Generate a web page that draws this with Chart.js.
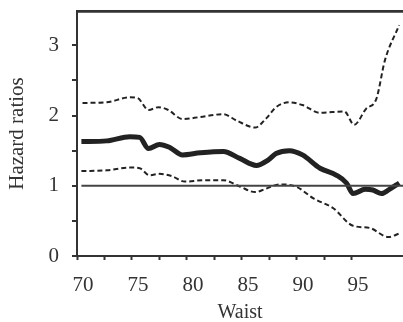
<!DOCTYPE html>
<html>
<head>
<meta charset="utf-8">
<script src="https://cdn.jsdelivr.net/npm/chart.js@4.4.1/dist/chart.umd.min.js"></script>
<style>
  html, body { margin: 0; padding: 0; background: #fff; }
  #wrap { width: 403px; height: 322px; }
</style>
</head>
<body>
<div id="wrap"><canvas id="hrChart" width="403" height="322"></canvas></div>
<script>
// Waist vs hazard ratio (estimate + 95% band)
const waistMain = [70.4, 72.7, 74.8, 75.7, 76.5, 77.5, 78.4, 79.6, 81.2, 83.3, 84.8, 86.3, 87.4, 88.1, 89.3, 90.5, 92.1, 93.6, 94.5, 95.1, 96.2, 96.9, 97.7, 98.4, 99.3];
const hrMain    = [1.63, 1.64, 1.70, 1.69, 1.53, 1.59, 1.55, 1.44, 1.47, 1.49, 1.39, 1.29, 1.37, 1.46, 1.50, 1.44, 1.25, 1.15, 1.04, 0.89, 0.95, 0.94, 0.89, 0.95, 1.04];

const waistUpper = [70.5, 72.7, 74.8, 75.5, 76.5, 77.4, 78.3, 79.6, 81.2, 83.3, 84.5, 86.2, 87.2, 88.1, 89.3, 90.5, 92.1, 94.3, 95.2, 96.3, 97.2, 98.0, 99.3];
const hrUpper    = [2.18, 2.19, 2.26, 2.25, 2.08, 2.12, 2.08, 1.95, 1.98, 2.02, 1.93, 1.83, 1.96, 2.12, 2.19, 2.15, 2.04, 2.06, 1.87, 2.10, 2.23, 2.79, 3.29];

const waistLower = [70.4, 72.7, 74.8, 75.7, 76.6, 77.5, 78.6, 79.8, 81.5, 83.3, 84.8, 86.2, 87.2, 88.4, 89.9, 91.5, 93.3, 95.1, 96.6, 98.3, 99.3];
const hrLower    = [1.21, 1.22, 1.26, 1.25, 1.15, 1.17, 1.14, 1.06, 1.08, 1.08, 0.99, 0.91, 0.96, 1.02, 0.99, 0.82, 0.68, 0.43, 0.40, 0.27, 0.32];

const refWaist = [70.4, 99.7];
const refHr    = [1, 1];

const xMin = 70, xMax = 99.64;
const yMin = 0, yMax = 3.49;

const pts = (xs, ys) => xs.map((x, i) => ({ x: x, y: ys[i] }));

const ink = '#222';
const axisInk = '#333';
const clear = 'rgba(0,0,0,0)';
const serif = "'Liberation Serif', 'DejaVu Serif', serif";

// only keep ticks on the step grid (plus the top, when asked, for the frame line)
function keepStep(step, keepMax) {
  return function (scale) {
    scale.ticks = scale.ticks.filter(t =>
      Math.abs(t.value / step - Math.round(t.value / step)) < 1e-6 || (keepMax && t.value === scale.max));
    if (keepMax && !scale.ticks.some(t => t.value === scale.max)) scale.ticks.push({ value: scale.max });
  };
}

const isTop = c => c.tick && c.tick.value === yMax;

// top edge of the frame, drawn again over the datasets
const topFrame = {
  id: 'topFrame',
  afterDatasetsDraw(chart) {
    const ctx = chart.ctx;
    const area = chart.chartArea;
    ctx.save();
    ctx.setLineDash([]);
    ctx.strokeStyle = axisInk;
    ctx.lineWidth = 2.5;
    ctx.beginPath();
    ctx.moveTo(area.left - 1, area.top + 0.5);
    ctx.lineTo(area.right, area.top + 0.5);
    ctx.stroke();
    ctx.restore();
  }
};

new Chart(document.getElementById('hrChart'), {
  type: 'line',
  data: {
    datasets: [
      {
        label: 'reference',
        data: pts(refWaist, refHr),
        borderColor: '#444',
        borderWidth: 2,
        pointRadius: 0,
        tension: 0
      },
      {
        label: 'upper',
        data: pts(waistUpper, hrUpper),
        borderColor: ink,
        borderWidth: 2,
        borderDash: [5, 3],
        pointRadius: 0,
        cubicInterpolationMode: 'monotone'
      },
      {
        label: 'lower',
        data: pts(waistLower, hrLower),
        borderColor: ink,
        borderWidth: 2,
        borderDash: [5, 3],
        pointRadius: 0,
        cubicInterpolationMode: 'monotone'
      },
      {
        label: 'HR',
        data: pts(waistMain, hrMain),
        borderColor: ink,
        borderWidth: 5,
        pointRadius: 0,
        cubicInterpolationMode: 'monotone'
      }
    ]
  },
  options: {
    responsive: false,
    animation: false,
    layout: { padding: { top: 11, left: 0, right: 0, bottom: 0 } },
    plugins: {
      legend: { display: false },
      tooltip: { enabled: false }
    },
    scales: {
      x: {
        type: 'linear',
        position: 'bottom',
        min: xMin,
        max: xMax,
        afterFit: s => { s.height = 66; s.paddingLeft = 0; s.paddingRight = 0; },
        afterBuildTicks: keepStep(2.5, false),
        ticks: {
          stepSize: 2.5,
          autoSkip: false,
          maxRotation: 0,
          padding: 13,
          labelOffset: 6,
          color: axisInk,
          font: { family: serif, size: 21 },
          callback: v => (v % 5 === 0 ? String(v) : '')
        },
        grid: { drawOnChartArea: false, tickLength: 4, tickWidth: 2, color: axisInk },
        border: { display: true, color: axisInk, width: 2 },
        title: {
          display: true,
          text: 'Waist',
          color: axisInk,
          font: { family: serif, size: 20, lineHeight: 0.9 },
          padding: 0
        }
      },
      y: {
        min: yMin,
        max: yMax,
        afterFit: s => { s.width = 77; s.paddingTop = 0; s.paddingBottom = 0; },
        afterBuildTicks: keepStep(0.5, true),
        ticks: {
          stepSize: 0.5,
          autoSkip: false,
          padding: 13,
          color: axisInk,
          font: { family: serif, size: 21 },
          callback: v => (v % 1 === 0 ? String(v) : '')
        },
        grid: {
          drawOnChartArea: true,
          tickLength: 5,
          lineWidth: 2,
          tickWidth: 2,
          color: c => (isTop(c) ? axisInk : clear),
          tickColor: c => (isTop(c) ? clear : axisInk)
        },
        border: { display: true, color: axisInk, width: 2 },
        title: {
          display: true,
          text: 'Hazard ratios',
          color: axisInk,
          font: { family: serif, size: 21 },
          padding: { top: 5, bottom: 0 }
        }
      }
    }
  },
  plugins: [topFrame]
});
</script>
</body>
</html>
